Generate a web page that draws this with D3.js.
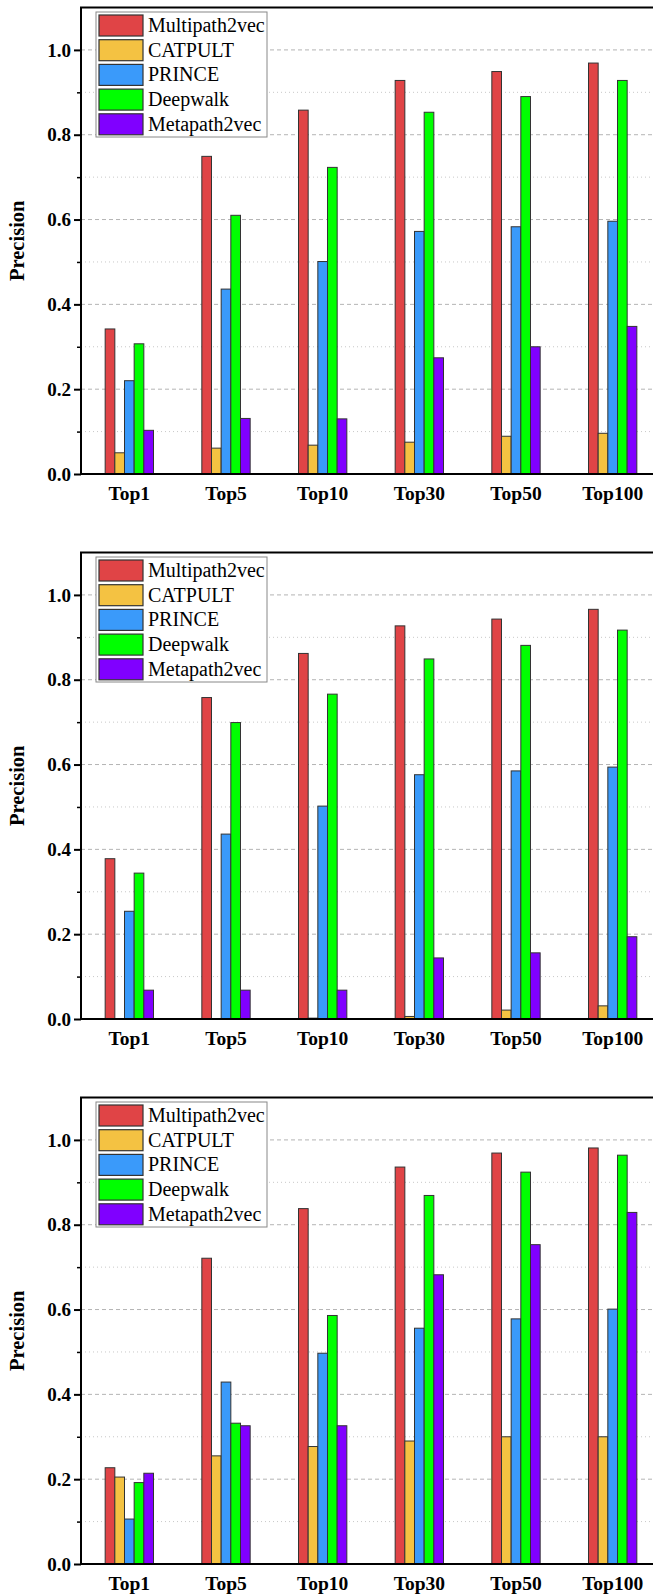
<!DOCTYPE html>
<html>
<head>
<meta charset="utf-8">
<script src="https://cdn.jsdelivr.net/npm/d3@7/dist/d3.min.js"></script>
<style>
    body { margin: 0; background: #fff; }
    svg { display: block; }
</style>
</head>
<body>
<div id="chart"></div>
<script>
// categories and series
let categories = ["Top1", "Top5", "Top10", "Top30", "Top50", "Top100"];
let methods = ["Multipath2vec", "CATPULT", "PRINCE", "Deepwalk", "Metapath2vec"];
let colors = ["#E04446", "#F4C242", "#3A9AFA", "#00FF00", "#8000FF"];
let yTicks = [0, 0.2, 0.4, 0.6, 0.8, 1.0];
let yMinorTicks = [0.1, 0.3, 0.5, 0.7, 0.9];

// panel 1 (top)
let panel1 = [
    [0.342, 0.749, 0.858, 0.928, 0.949, 0.969],   // Multipath2vec
    [0.050, 0.061, 0.068, 0.075, 0.089, 0.096],   // CATPULT
    [0.220, 0.436, 0.501, 0.572, 0.583, 0.596],   // PRINCE
    [0.307, 0.610, 0.723, 0.853, 0.890, 0.928],   // Deepwalk
    [0.103, 0.131, 0.130, 0.274, 0.300, 0.348]    // Metapath2vec
];
// panel 2 (middle)
let panel2 = [
    [0.378, 0.758, 0.862, 0.927, 0.943, 0.966],
    [0.000, 0.000, 0.002, 0.006, 0.021, 0.031],
    [0.254, 0.436, 0.502, 0.576, 0.585, 0.594],
    [0.344, 0.699, 0.766, 0.849, 0.881, 0.917],
    [0.068, 0.068, 0.068, 0.144, 0.156, 0.194]
];
// panel 3 (bottom)
let panel3 = [
    [0.227, 0.721, 0.838, 0.936, 0.969, 0.981],
    [0.205, 0.255, 0.277, 0.290, 0.300, 0.300],
    [0.106, 0.429, 0.497, 0.556, 0.578, 0.601],
    [0.192, 0.332, 0.586, 0.869, 0.924, 0.964],
    [0.214, 0.326, 0.326, 0.682, 0.753, 0.829]
];
let panels = [panel1, panel2, panel3];

let FONT = "'Liberation Serif', 'Times New Roman', Times, serif";
let WIDTH = 653, HEIGHT = 1594;
let svg = d3.select("#chart").append("svg")
    .attr("width", WIDTH)
    .attr("height", HEIGHT)
    .attr("font-family", FONT);

/**
 * Draws one bar panel whose plot area starts at top.
 */
function drawPanel(data, top) {
    let MARGINS = {left: 81, right: 661, top: top, bottom: top + 466.5};
    let g = svg.append("g");

    let xScale = d3.scaleBand().domain(categories)
        .range([MARGINS.left, MARGINS.right])
        .paddingInner(0.5).paddingOuter(0.25);
    let xInner = d3.scaleBand().domain(methods).range([0, xScale.bandwidth()]);
    let yScale = d3.scaleLinear().domain([0, 1.1]).range([MARGINS.bottom, MARGINS.top]);

    // grid lines
    g.append("g").selectAll("line").data(yMinorTicks).enter().append("line")
        .attr("x1", MARGINS.left).attr("x2", MARGINS.right)
        .attr("y1", d => yScale(d)).attr("y2", d => yScale(d))
        .attr("stroke", "#c8c8c8").attr("stroke-width", 1)
        .attr("stroke-dasharray", "1,3");
    g.append("g").selectAll("line").data(yTicks.slice(1)).enter().append("line")
        .attr("x1", MARGINS.left).attr("x2", MARGINS.right)
        .attr("y1", d => yScale(d)).attr("y2", d => yScale(d))
        .attr("stroke", "#b4b4b4").attr("stroke-width", 1)
        .attr("stroke-dasharray", "4,3");

    // bars (zero values draw nothing)
    methods.forEach((m, si) => {
        let rows = data[si].map((v, i) => ({cat: categories[i], v: v}))
            .filter(d => d.v > 0);
        g.append("g").selectAll("rect").data(rows).enter()
            .append("rect")
            .attr("x", d => xScale(d.cat) + xInner(m))
            .attr("width", xInner.bandwidth())
            .attr("y", d => yScale(d.v))
            .attr("height", d => yScale(0) - yScale(d.v))
            .attr("fill", colors[si])
            .attr("stroke", "#333")
            .attr("stroke-width", 1);
    });

    // axes
    let yAxis = d3.axisLeft(yScale).tickValues(yTicks).tickFormat(d3.format(".1f"))
        .tickSize(7).tickPadding(3);
    let yAx = g.append("g")
        .attr("transform", "translate(" + MARGINS.left + ",0)")
        .call(yAxis);
    yAx.attr("font-family", FONT).attr("font-size", 19).attr("font-weight", "bold");
    yAx.select(".domain").remove();
    yAx.selectAll("line").attr("stroke", "#000").attr("stroke-width", 2);
    yAx.selectAll("text").attr("fill", "#000");

    let yMinor = d3.axisLeft(yScale).tickValues(yMinorTicks).tickFormat("").tickSize(4);
    let yMi = g.append("g")
        .attr("transform", "translate(" + MARGINS.left + ",0)")
        .call(yMinor);
    yMi.select(".domain").remove();
    yMi.selectAll("line").attr("stroke", "#000").attr("stroke-width", 1.5);

    let xAxis = d3.axisBottom(xScale).tickSize(0).tickPadding(12.5);
    let xAx = g.append("g")
        .attr("transform", "translate(0," + MARGINS.bottom + ")")
        .call(xAxis);
    xAx.attr("font-family", FONT).attr("font-size", 19.5).attr("font-weight", "bold");
    xAx.select(".domain").remove();
    xAx.selectAll("text").attr("fill", "#000");

    // frame: left, bottom, top
    g.append("path")
        .attr("d", "M" + MARGINS.right + "," + MARGINS.top + "H" + MARGINS.left +
            "V" + MARGINS.bottom + "H" + MARGINS.right)
        .attr("fill", "none").attr("stroke", "#000").attr("stroke-width", 2);

    // y title
    g.append("text")
        .attr("text-anchor", "middle")
        .attr("transform", "translate(24," + ((MARGINS.top + MARGINS.bottom) / 2) + ")rotate(-90)")
        .attr("font-size", 20.5).attr("font-weight", "bold")
        .text("Precision");

    // legend
    let lg = g.append("g").attr("transform", "translate(96," + (top + 4.5) + ")");
    lg.append("rect").attr("x", 0).attr("y", 0).attr("width", 171).attr("height", 125)
        .attr("fill", "#fff").attr("stroke", "#888").attr("stroke-width", 1);
    methods.forEach((m, i) => {
        lg.append("rect")
            .attr("x", 3).attr("y", 3 + i * 24.7)
            .attr("width", 44).attr("height", 21)
            .attr("fill", colors[i]).attr("stroke", "#333").attr("stroke-width", 1.2);
        lg.append("text")
            .attr("x", 52).attr("y", 3 + i * 24.7 + 17)
            .attr("font-size", 20)
            .text(m);
    });
}

drawPanel(panels[0], 7.5);
drawPanel(panels[1], 552.5);
drawPanel(panels[2], 1097.5);
</script>
</body>
</html>
